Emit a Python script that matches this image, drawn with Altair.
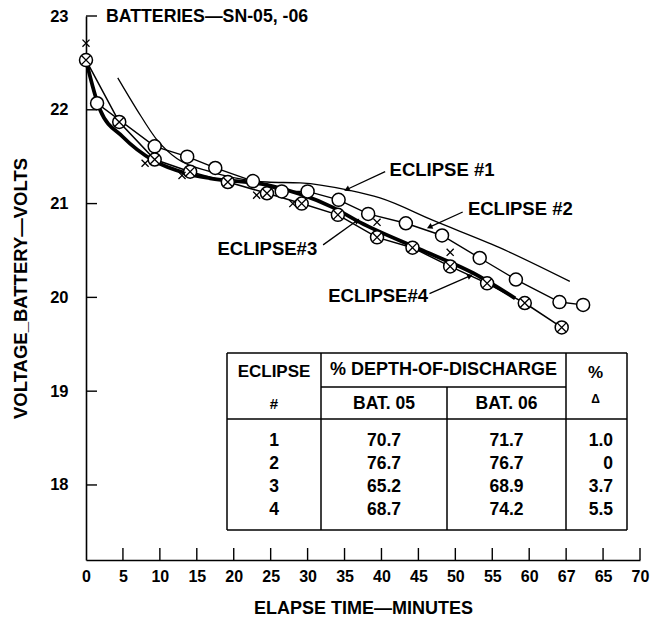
import altair as alt
import pandas as pd

# ---------------- data ----------------
# Eclipse #1 : thin line, no symbols
E1_T = [4.3, 6.9, 9.6, 12.3, 16.8, 24.5, 29.0, 35.7, 39.8, 47.0, 56.0, 65.5]
E1_V = [22.34, 22.00, 21.68, 21.48, 21.34, 21.23, 21.22, 21.14, 21.06, 20.82, 20.53, 20.17]

# Eclipse #2 : open circles
E2_T = [0, 1.5, 9.3, 13.7, 17.5, 22.6, 26.5, 30.0, 34.2, 38.2, 43.3, 48.2, 53.3, 58.2, 64.1, 67.3]
E2_V = [22.53, 22.07, 21.61, 21.50, 21.38, 21.24, 21.13, 21.13, 21.04, 20.89, 20.79, 20.66, 20.42, 20.19, 19.95, 19.92]

# Eclipse #3 : heavy line, with small x symbols
E3_T = [0, 1.9, 5.0, 9.1, 13.7, 16.8, 24.5, 33.4, 37.1, 45.6, 52.4, 58.1]
E3_V = [22.53, 22.00, 21.71, 21.46, 21.32, 21.27, 21.20, 20.96, 20.80, 20.50, 20.26, 19.99]
E3_XT = [0, 8.0, 13.0, 23.1, 28.0, 39.4, 49.3]
E3_XV = [22.71, 21.43, 21.30, 21.09, 21.00, 20.80, 20.48]

# Eclipse #4 : crossed circles
E4_T = [0, 4.5, 9.3, 14.1, 19.2, 24.5, 29.2, 34.1, 39.4, 44.2, 49.3, 54.3, 59.4, 64.4]
E4_V = [22.53, 21.87, 21.47, 21.34, 21.23, 21.11, 21.00, 20.88, 20.64, 20.53, 20.33, 20.15, 19.94, 19.68]

# axes
X_TICKS = [0, 5, 10, 15, 20, 25, 30, 35, 40, 45, 50, 55, 60, 65, 70, 75]
X_LABELS = ["0", "5", "10", "15", "20", "25", "30", "35", "40", "45", "50", "55", "60", "67", "65", "70"]
Y_TICKS = [18, 19, 20, 21, 22, 23]

# curve labels
ANN_TEXT = ["ECLIPSE #1", "ECLIPSE #2", "ECLIPSE#3", "ECLIPSE#4"]
ANN_T = [41.1, 51.7, 31.3, 46.3]
ANN_V = [21.36, 20.94, 20.52, 20.01]
ANN_ALIGN = ["left", "left", "right", "right"]
ARR_T0 = [40.5, 51.0, 32.1, 46.5]
ARR_V0 = [21.34, 20.91, 20.56, 20.04]
ARR_T1 = [35.3, 46.5, 36.7, 52.0]
ARR_V1 = [21.15, 20.75, 20.82, 20.23]

# table
TAB_ECL = ["1", "2", "3", "4"]
TAB_B05 = ["70.7", "76.7", "65.2", "68.7"]
TAB_B06 = ["71.7", "76.7", "68.9", "74.2"]
TAB_DELTA = ["1.0", "0", "3.7", "5.5"]

TITLE = "BATTERIES\u2014SN-05, -06"
X_TITLE = "ELAPSE TIME\u2014MINUTES"
Y_TITLE = "VOLTAGE_BATTERY\u2014VOLTS"

# ---------------- style / layout ----------------
W, H = 554, 544
FONT = "Liberation Sans"
ARROW_ANGLE = [246, 246, 54, 67]

xs = alt.Scale(domain=[0, 75], nice=False, zero=False)
ys = alt.Scale(domain=[17.2, 23], nice=False, zero=False)

label_expr = "[" + ",".join("'%s'" % s for s in X_LABELS) + "][round(datum.value/5)]"

X_AXIS = alt.Axis(values=X_TICKS, labelExpr=label_expr, ticks=False, tickSize=0, grid=False,
                  domainColor="black", domainWidth=1.6, labelPadding=8,
                  labelFont=FONT, labelFontSize=16, labelFontWeight="bold", labelColor="black",
                  labelFlush=False, labelOverlap=False,
                  title=X_TITLE, titleFont=FONT, titleFontSize=18, titleFontWeight="bold",
                  titleColor="black", titleX=277, titleY=48, titleAlign="center",
                  titleBaseline="middle")
Y_AXIS = alt.Axis(values=Y_TICKS, ticks=False, tickSize=0, grid=False,
                  domainColor="black", domainWidth=1.6, labelPadding=18,
                  labelFont=FONT, labelFontSize=16.5, labelFontWeight="bold", labelColor="black",
                  labelFlush=False, labelOverlap=False,
                  title=Y_TITLE, titleFont=FONT, titleFontSize=18.5, titleFontWeight="bold",
                  titleColor="black", titleAngle=270, titleX=-66, titleY=272,
                  titleAlign="center", titleBaseline="middle")


def df(t, v):
    return pd.DataFrame({"t": t, "v": v})


def enc(chart):
    return chart.encode(x=alt.X("t:Q", scale=xs, axis=X_AXIS),
                        y=alt.Y("v:Q", scale=ys, axis=Y_AXIS))


def line(t, v, w, interp):
    return enc(alt.Chart(df(t, v)).mark_line(color="black", strokeWidth=w, interpolate=interp))


l1 = line(E1_T, E1_V, 1.3, "monotone")
l2 = line(E2_T, E2_V, 1.4, "linear")
l3 = line(E3_T, E3_V, 3.8, "monotone")
l4 = line(E4_T, E4_V, 1.5, "linear")

open_c = enc(alt.Chart(df(E2_T[1:], E2_V[1:])).mark_point(
    shape="circle", filled=True, fill="white", stroke="black", strokeWidth=1.5,
    size=169, opacity=1))
cross_c = enc(alt.Chart(df(E4_T, E4_V)).mark_point(
    shape="circle", filled=True, fill="white", stroke="black", strokeWidth=1.5,
    size=169, opacity=1))
cross_x = enc(alt.Chart(df(E4_T, E4_V)).mark_point(
    shape="M-0.7,-0.7L0.7,0.7M0.7,-0.7L-0.7,0.7", filled=False, stroke="black",
    strokeWidth=1.3, size=169, opacity=1))
x_marks = enc(alt.Chart(df(E3_XT, E3_XV)).mark_point(
    shape="M-1,-1L1,1M1,-1L-1,1", filled=False, stroke="black",
    strokeWidth=1.3, size=50, opacity=1))

# inward ticks
xt = alt.Chart(pd.DataFrame({"t": X_TICKS[1:]})).mark_rule(color="black", strokeWidth=1.4).encode(
    x=alt.X("t:Q", scale=xs, axis=X_AXIS), y=alt.value(H), y2=alt.value(H - 12))
yt = alt.Chart(pd.DataFrame({"v": Y_TICKS})).mark_rule(color="black", strokeWidth=1.4).encode(
    y=alt.Y("v:Q", scale=ys, axis=Y_AXIS), x=alt.value(0), x2=alt.value(11))

# annotations
ann = pd.DataFrame({"text": ANN_TEXT, "t": ANN_T, "v": ANN_V, "align": ANN_ALIGN,
                    "t0": ARR_T0, "v0": ARR_V0, "t1": ARR_T1, "v1": ARR_V1, "ang": ARROW_ANGLE})
ann_left = enc(alt.Chart(ann).transform_filter("datum.align == 'left'").mark_text(
    align="left", baseline="middle", font=FONT, fontSize=18.5, fontWeight="bold", color="black")
).encode(text="text:N")
ann_right = enc(alt.Chart(ann).transform_filter("datum.align == 'right'").mark_text(
    align="right", baseline="middle", font=FONT, fontSize=18.5, fontWeight="bold", color="black")
).encode(text="text:N")
arrows = alt.Chart(ann).mark_rule(color="black", strokeWidth=1.3).encode(
    x=alt.X("t0:Q", scale=xs, axis=X_AXIS), y=alt.Y("v0:Q", scale=ys, axis=Y_AXIS),
    x2="t1:Q", y2="v1:Q")
heads = alt.Chart(ann).mark_point(shape="triangle-up", filled=True, color="black",
                                  size=40, opacity=1).encode(
    x=alt.X("t1:Q", scale=xs, axis=X_AXIS), y=alt.Y("v1:Q", scale=ys, axis=Y_AXIS),
    angle=alt.Angle("ang:Q", scale=None))

title = alt.Chart(pd.DataFrame({"s": [TITLE]})).mark_text(
    align="left", baseline="middle", font=FONT, fontSize=17.7, fontWeight="bold", color="black"
).encode(x=alt.value(20), y=alt.value(1), text="s:N")

main = alt.layer(l1, l2, l4, l3, open_c, cross_c, cross_x, x_marks, xt, yt,
                 arrows, heads, ann_left, ann_right, title)

# ---------------- table (layout in plot pixels) ----------------
TX = [141, 235, 361, 480, 541]
TY_TOP, TY_MID, TY_HEAD, TY_BOT = 337, 371, 403, 514
ROW_Y = [425, 448, 471, 494]

pxs = alt.Scale(domain=[0, W], range=[0, W], nice=False, zero=False)
pys = alt.Scale(domain=[0, H], range=[0, H], nice=False, zero=False)

rules = pd.DataFrame([
    (TX[0], TY_TOP, TX[4], TY_TOP), (TX[0], TY_BOT, TX[4], TY_BOT),
    (TX[0], TY_HEAD, TX[4], TY_HEAD), (TX[1], TY_MID, TX[3], TY_MID),
    (TX[0], TY_TOP, TX[0], TY_BOT), (TX[4], TY_TOP, TX[4], TY_BOT),
    (TX[1], TY_TOP, TX[1], TY_BOT), (TX[2], TY_MID, TX[2], TY_BOT),
    (TX[3], TY_TOP, TX[3], TY_BOT)], columns=["x", "y", "x2", "y2"])

bg = alt.Chart(pd.DataFrame({"x": [TX[0]], "y": [TY_TOP], "x2": [TX[4]], "y2": [TY_BOT]})).mark_rect(
    fill="white").encode(x=alt.X("x:Q", scale=pxs, axis=None), y=alt.Y("y:Q", scale=pys, axis=None),
                         x2="x2:Q", y2="y2:Q")
trules = alt.Chart(rules).mark_rule(color="black", strokeWidth=1.5).encode(
    x=alt.X("x:Q", scale=pxs, axis=None), y=alt.Y("y:Q", scale=pys, axis=None),
    x2="x2:Q", y2="y2:Q")

cx = [(TX[0] + TX[1]) / 2, (TX[1] + TX[2]) / 2, (TX[2] + TX[3]) / 2, (TX[3] + TX[4]) / 2]
center_cells = [("ECLIPSE", cx[0], 356, 17), ("#", cx[0], 388, 15),
                ("% DEPTH-OF-DISCHARGE", (TX[1] + TX[3]) / 2, 354, 18),
                ("BAT. 05", cx[1], 388, 17.5), ("BAT. 06", cx[2], 388, 17.5),
                ("%", cx[3] - 1, 357, 17), ("\u0394", cx[3] - 1, 383, 12)]
for i in range(4):
    center_cells.append((TAB_ECL[i], cx[0], ROW_Y[i], 17.5))
    center_cells.append((TAB_B05[i], cx[1], ROW_Y[i], 17.5))
    center_cells.append((TAB_B06[i], cx[2], ROW_Y[i], 17.5))
cc = pd.DataFrame(center_cells, columns=["s", "x", "y", "fs"])
right_cells = pd.DataFrame({"s": TAB_DELTA, "x": [TX[3] + 47] * 4, "y": ROW_Y})

tcenter = alt.Chart(cc).mark_text(align="center", baseline="middle", font=FONT,
                                  fontWeight="bold", color="black").encode(
    x=alt.X("x:Q", scale=pxs, axis=None), y=alt.Y("y:Q", scale=pys, axis=None),
    text="s:N", size=alt.Size("fs:Q", scale=None, legend=None))
tright = alt.Chart(right_cells).mark_text(align="right", baseline="middle", font=FONT,
                                          fontSize=17.5, fontWeight="bold", color="black").encode(
    x=alt.X("x:Q", scale=pxs, axis=None), y=alt.Y("y:Q", scale=pys, axis=None), text="s:N")

table = alt.layer(bg, trules, tcenter, tright)

chart = alt.layer(main, table).resolve_scale(x="independent", y="independent").properties(
    width=W, height=H,
    autosize=alt.AutoSizeParams(type="none"),
    padding={"left": 86, "top": 16, "right": 10, "bottom": 71},
    background="white",
).configure_view(stroke=None)

chart.save("out.html", embed_options={"renderer": "svg", "actions": False})
